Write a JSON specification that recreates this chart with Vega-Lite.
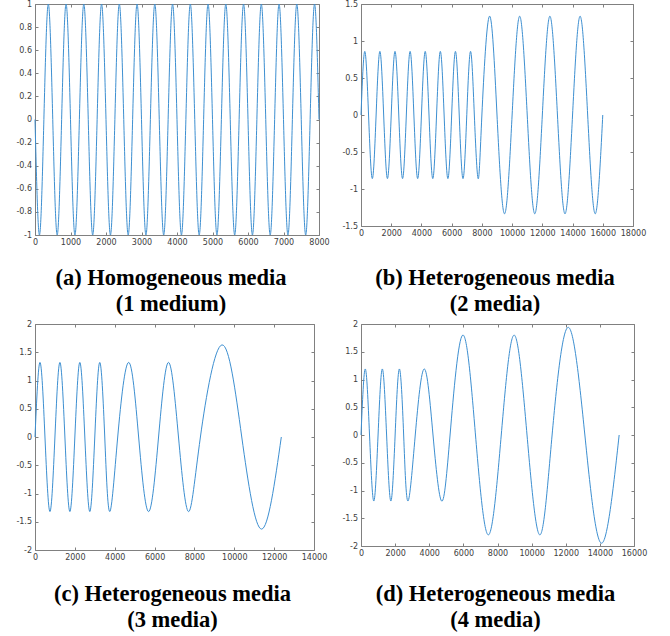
{
  "$schema": "https://vega.github.io/schema/vega-lite/v6.json",
  "background": "white",
  "padding": {"left": 15, "top": 0, "right": 5, "bottom": 5},
  "columns": 2,
  "spacing": {"row": 89, "column": 42},
  "bounds": "flush",
  "align": "all",
  "config": {
    "view": {"stroke": null},
    "axis": {"domainColor": "#808080", "tickColor": "#808080", "tickSize": -3, "labelFont": "DejaVu Sans", "labelFontSize": 8, "labelColor": "#404040", "labelPadding": 6.5, "grid": false, "title": null, "domainWidth": 1, "tickWidth": 1, "labelFlush": false, "labelOverlap": false, "labelBound": false},
    "title": {"font": "Liberation Serif", "fontSize": 22.5, "fontWeight": "bold", "color": "#000000", "orient": "bottom", "lineHeight": 26},
    "line": {"interpolate": "natural", "color": "#3d8fd1", "strokeWidth": 1}
  },
  "datasets": {
    "a": [
      {"x":0,"y":0},{"x":125,"y":-1},{"x":250,"y":0},{"x":375,"y":1},
      {"x":500,"y":0},{"x":625,"y":-1},{"x":750,"y":0},{"x":875,"y":1},
      {"x":1000,"y":0},{"x":1125,"y":-1},{"x":1250,"y":0},{"x":1375,"y":1},
      {"x":1500,"y":0},{"x":1625,"y":-1},{"x":1750,"y":0},{"x":1875,"y":1},
      {"x":2000,"y":0},{"x":2125,"y":-1},{"x":2250,"y":0},{"x":2375,"y":1},
      {"x":2500,"y":0},{"x":2625,"y":-1},{"x":2750,"y":0},{"x":2875,"y":1},
      {"x":3000,"y":0},{"x":3125,"y":-1},{"x":3250,"y":0},{"x":3375,"y":1},
      {"x":3500,"y":0},{"x":3625,"y":-1},{"x":3750,"y":0},{"x":3875,"y":1},
      {"x":4000,"y":0},{"x":4125,"y":-1},{"x":4250,"y":0},{"x":4375,"y":1},
      {"x":4500,"y":0},{"x":4625,"y":-1},{"x":4750,"y":0},{"x":4875,"y":1},
      {"x":5000,"y":0},{"x":5125,"y":-1},{"x":5250,"y":0},{"x":5375,"y":1},
      {"x":5500,"y":0},{"x":5625,"y":-1},{"x":5750,"y":0},{"x":5875,"y":1},
      {"x":6000,"y":0},{"x":6125,"y":-1},{"x":6250,"y":0},{"x":6375,"y":1},
      {"x":6500,"y":0},{"x":6625,"y":-1},{"x":6750,"y":0},{"x":6875,"y":1},
      {"x":7000,"y":0},{"x":7125,"y":-1},{"x":7250,"y":0},{"x":7375,"y":1},
      {"x":7500,"y":0},{"x":7625,"y":-1},{"x":7750,"y":0},{"x":7875,"y":1},
      {"x":8000,"y":0}
    ],
    "b": [
      {"x":0,"y":0},{"x":250,"y":0.86},{"x":500,"y":0},{"x":750,"y":-0.86},
      {"x":1000,"y":0},{"x":1250,"y":0.86},{"x":1500,"y":0},{"x":1750,"y":-0.86},
      {"x":2000,"y":0},{"x":2250,"y":0.86},{"x":2500,"y":0},{"x":2750,"y":-0.86},
      {"x":3000,"y":0},{"x":3250,"y":0.86},{"x":3500,"y":0},{"x":3750,"y":-0.86},
      {"x":4000,"y":0},{"x":4250,"y":0.86},{"x":4500,"y":0},{"x":4750,"y":-0.86},
      {"x":5000,"y":0},{"x":5250,"y":0.86},{"x":5500,"y":0},{"x":5750,"y":-0.86},
      {"x":6000,"y":0},{"x":6250,"y":0.86},{"x":6500,"y":0},{"x":6750,"y":-0.86},
      {"x":7000,"y":0},{"x":7250,"y":0.86},{"x":7500,"y":0},{"x":7750,"y":-0.86},
      {"x":8000,"y":0},{"x":8500,"y":1.335},{"x":9000,"y":0},{"x":9500,"y":-1.335},
      {"x":10000,"y":0},{"x":10500,"y":1.335},{"x":11000,"y":0},{"x":11500,"y":-1.335},
      {"x":12000,"y":0},{"x":12500,"y":1.335},{"x":13000,"y":0},{"x":13500,"y":-1.335},
      {"x":14000,"y":0},{"x":14500,"y":1.335},{"x":15000,"y":0},{"x":15500,"y":-1.335},
      {"x":16000,"y":0}
    ],
    "c": [
      {"x":0,"y":0},{"x":250,"y":1.32},{"x":500,"y":0},{"x":750,"y":-1.32},
      {"x":1000,"y":0},{"x":1250,"y":1.32},{"x":1500,"y":0},{"x":1750,"y":-1.32},
      {"x":2000,"y":0},{"x":2250,"y":1.32},{"x":2500,"y":0},{"x":2750,"y":-1.32},
      {"x":3000,"y":0},{"x":3250,"y":1.32},{"x":3500,"y":0},{"x":3750,"y":-1.32},
      {"x":4150,"y":0},{"x":4700,"y":1.32},{"x":5200,"y":0},{"x":5700,"y":-1.32},
      {"x":6200,"y":0},{"x":6700,"y":1.32},{"x":7200,"y":0},{"x":7700,"y":-1.32},
      {"x":8300,"y":0},{"x":9380,"y":1.63},{"x":10375,"y":0},{"x":11370,"y":-1.63},
      {"x":12360,"y":0}
    ],
    "d": [
      {"x":0,"y":0},{"x":250,"y":1.19},{"x":500,"y":0},{"x":750,"y":-1.19},
      {"x":1000,"y":0},{"x":1250,"y":1.19},{"x":1500,"y":0},{"x":1750,"y":-1.19},
      {"x":2000,"y":0},{"x":2250,"y":1.19},{"x":2500,"y":0},{"x":2750,"y":-1.19},
      {"x":3180,"y":0},{"x":3710,"y":1.19},{"x":4220,"y":0},{"x":4725,"y":-1.19},
      {"x":5220,"y":0},{"x":5960,"y":1.8},{"x":6710,"y":0},{"x":7465,"y":-1.8},
      {"x":8220,"y":0},{"x":8975,"y":1.8},{"x":9730,"y":0},{"x":10480,"y":-1.8},
      {"x":11200,"y":0},{"x":12140,"y":1.94},{"x":13120,"y":0},{"x":14100,"y":-1.95},
      {"x":15130,"y":0}
    ]
  },
  "concat": [
    {
      "width": 284, "height": 231,
      "title": {"text": ["(a) Homogeneous media", "(1 medium)"], "dx": -6, "offset": 20},
      "data": {"name": "a"},
      "layer": [
        {"mark": "line", "encoding": {
          "x": {"field": "x", "type": "quantitative", "scale": {"domain": [0, 8000], "nice": false, "zero": false}, "axis": {"orient": "bottom", "values": [0,1000,2000,3000,4000,5000,6000,7000,8000], "format": "d"}},
          "y": {"field": "y", "type": "quantitative", "scale": {"domain": [-1, 1], "nice": false}, "axis": {"orient": "left", "values": [-1,-0.8,-0.6,-0.4,-0.2,0,0.2,0.4,0.6,0.8,1], "labelExpr": "datum.value < 0 ? '-' + format(-datum.value, '~g') : format(datum.value, '~g')"}}
        }},
        {"mark": {"type": "line", "strokeOpacity": 0}, "encoding": {
          "x": {"field": "x", "type": "quantitative", "axis": {"orient": "top", "values": [0,1000,2000,3000,4000,5000,6000,7000,8000], "labels": false}},
          "y": {"field": "y", "type": "quantitative", "axis": {"orient": "right", "values": [-1,-0.8,-0.6,-0.4,-0.2,0,0.2,0.4,0.6,0.8,1], "labels": false}}
        }}
      ],
      "resolve": {"axis": {"x": "independent", "y": "independent"}}
    },
    {
      "width": 272, "height": 222,
      "title": {"text": ["(b) Heterogeneous media", "(2 media)"], "dx": -2, "offset": 29},
      "data": {"name": "b"},
      "layer": [
        {"mark": "line", "encoding": {
          "x": {"field": "x", "type": "quantitative", "scale": {"domain": [0, 18000], "nice": false, "zero": false}, "axis": {"orient": "bottom", "values": [0,2000,4000,6000,8000,10000,12000,14000,16000,18000], "format": "d"}},
          "y": {"field": "y", "type": "quantitative", "scale": {"domain": [-1.5, 1.5], "nice": false}, "axis": {"orient": "left", "values": [-1.5,-1,-0.5,0,0.5,1,1.5], "labelExpr": "datum.value < 0 ? '-' + format(-datum.value, '~g') : format(datum.value, '~g')"}}
        }},
        {"mark": {"type": "line", "strokeOpacity": 0}, "encoding": {
          "x": {"field": "x", "type": "quantitative", "axis": {"orient": "top", "values": [0,2000,4000,6000,8000,10000,12000,14000,16000,18000], "labels": false}},
          "y": {"field": "y", "type": "quantitative", "axis": {"orient": "right", "values": [-1.5,-1,-0.5,0,0.5,1,1.5], "labels": false}}
        }}
      ],
      "resolve": {"axis": {"x": "independent", "y": "independent"}}
    },
    {
      "width": 279, "height": 226,
      "title": {"text": ["(c) Heterogeneous media", "(3 media)"], "dx": -2, "offset": 21},
      "data": {"name": "c"},
      "layer": [
        {"mark": "line", "encoding": {
          "x": {"field": "x", "type": "quantitative", "scale": {"domain": [0, 14000], "nice": false, "zero": false}, "axis": {"orient": "bottom", "values": [0,2000,4000,6000,8000,10000,12000,14000], "format": "d"}},
          "y": {"field": "y", "type": "quantitative", "scale": {"domain": [-2, 2], "nice": false}, "axis": {"orient": "left", "values": [-2,-1.5,-1,-0.5,0,0.5,1,1.5,2], "labelExpr": "datum.value < 0 ? '-' + format(-datum.value, '~g') : format(datum.value, '~g')"}}
        }},
        {"mark": {"type": "line", "strokeOpacity": 0}, "encoding": {
          "x": {"field": "x", "type": "quantitative", "axis": {"orient": "top", "values": [0,2000,4000,6000,8000,10000,12000,14000], "labels": false}},
          "y": {"field": "y", "type": "quantitative", "axis": {"orient": "right", "values": [-2,-1.5,-1,-0.5,0,0.5,1,1.5,2], "labels": false}}
        }}
      ],
      "resolve": {"axis": {"x": "independent", "y": "independent"}}
    },
    {
      "width": 273, "height": 222,
      "title": {"text": ["(d) Heterogeneous media", "(4 media)"], "dx": -2, "offset": 25},
      "data": {"name": "d"},
      "layer": [
        {"mark": "line", "encoding": {
          "x": {"field": "x", "type": "quantitative", "scale": {"domain": [0, 16000], "nice": false, "zero": false}, "axis": {"orient": "bottom", "values": [0,2000,4000,6000,8000,10000,12000,14000,16000], "format": "d"}},
          "y": {"field": "y", "type": "quantitative", "scale": {"domain": [-2, 2], "nice": false}, "axis": {"orient": "left", "values": [-2,-1.5,-1,-0.5,0,0.5,1,1.5,2], "labelExpr": "datum.value < 0 ? '-' + format(-datum.value, '~g') : format(datum.value, '~g')"}}
        }},
        {"mark": {"type": "line", "strokeOpacity": 0}, "encoding": {
          "x": {"field": "x", "type": "quantitative", "axis": {"orient": "top", "values": [0,2000,4000,6000,8000,10000,12000,14000,16000], "labels": false}},
          "y": {"field": "y", "type": "quantitative", "axis": {"orient": "right", "values": [-2,-1.5,-1,-0.5,0,0.5,1,1.5,2], "labels": false}}
        }}
      ],
      "resolve": {"axis": {"x": "independent", "y": "independent"}}
    }
  ]
}
